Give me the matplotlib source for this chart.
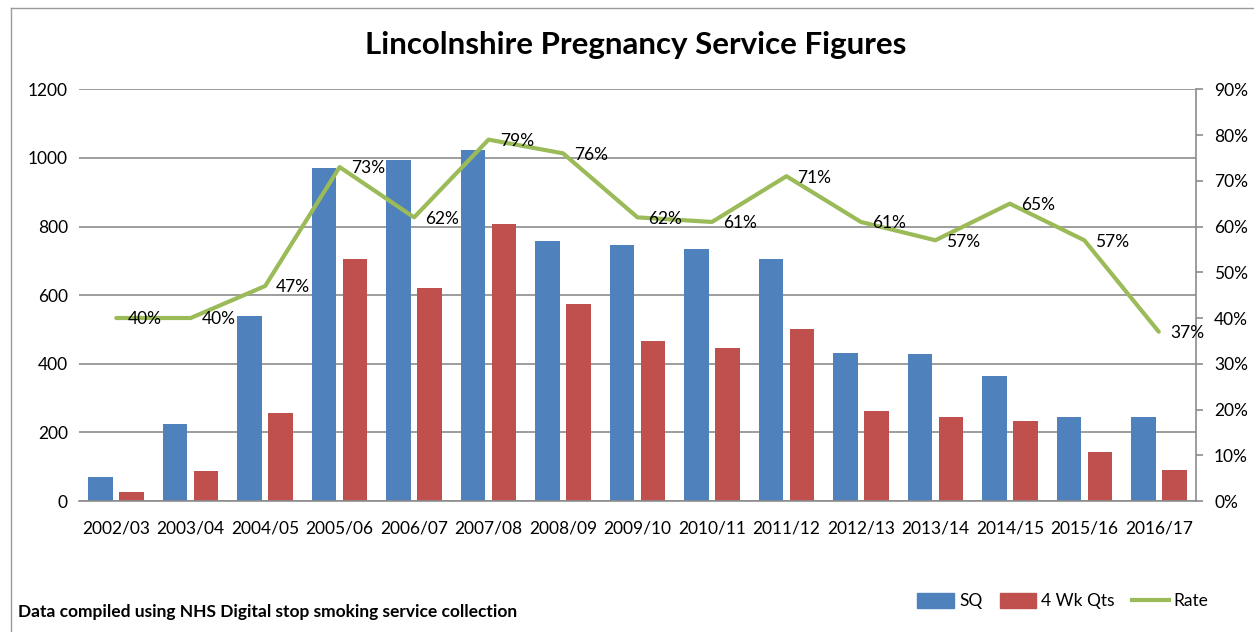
import matplotlib
matplotlib.use("Agg")
import matplotlib.pyplot as plt
from matplotlib.lines import Line2D
from matplotlib.patches import Patch
import numpy as np

years = ["2002/03", "2003/04", "2004/05", "2005/06", "2006/07", "2007/08",
         "2008/09", "2009/10", "2010/11", "2011/12", "2012/13", "2013/14",
         "2014/15", "2015/16", "2016/17"]
sq = [71, 223, 539, 970, 994, 1023, 758, 746, 735, 705, 430, 428, 364, 246, 244]
qts = [27, 88, 256, 704, 620, 807, 575, 465, 446, 500, 262, 244, 234, 142, 90]
rate = [0.40, 0.40, 0.47, 0.73, 0.62, 0.79, 0.76, 0.62, 0.61, 0.71,
        0.61, 0.57, 0.65, 0.57, 0.37]

BLUE = "#4F81BD"
RED = "#C0504D"
GREEN = "#9BBB59"
GRID = "#8C8C8C"

plt.rcParams["font.family"] = ["Lato", "DejaVu Sans"]

fig = plt.figure(figsize=(12.54, 6.32), dpi=100)
ax = fig.add_axes([79 / 1254, 131 / 632, (1196 - 79) / 1254, (501 - 89.3) / 632])

x = np.arange(len(years))
w = 0.33
ax.bar(x - 0.208, sq, w, color=BLUE, zorder=2)
ax.bar(x + 0.208, qts, w, color=RED, zorder=2)

ax.set_xlim(-0.5, len(years) - 0.5)
ax.set_ylim(0, 1200)
ax.set_yticks(range(0, 1201, 200))
ax.set_xticks(x)
ax.set_xticklabels(years)
ax.yaxis.grid(True, color=GRID, linewidth=1.2, zorder=0)
ax.set_axisbelow(True)
ax.tick_params(axis="both", length=0, labelsize=12.5, pad=8)
ax.tick_params(axis="x", pad=14)
for s in ["top", "left", "right"]:
    ax.spines[s].set_visible(False)
ax.spines["bottom"].set_color(GRID)
ax.spines["bottom"].set_linewidth(1.2)

ax2 = ax.twinx()
ax2.plot(x, rate, color=GREEN, linewidth=3, solid_capstyle="round", zorder=3)
ax2.set_ylim(0, 0.9)
ax2.set_yticks(np.arange(0, 0.91, 0.1))
ax2.set_yticklabels([f"{int(round(v * 100))}%" for v in np.arange(0, 0.91, 0.1)])
ax2.tick_params(axis="y", length=5, color=GRID, labelsize=12.5, pad=8, width=1.2)
for s in ["top", "left", "bottom"]:
    ax2.spines[s].set_visible(False)
ax2.spines["right"].set_color(GRID)
ax2.spines["right"].set_linewidth(1.2)

for xi, r in zip(x, rate):
    ax2.annotate(f"{int(round(r * 100))}%", xy=(xi, r), xytext=(8, -1),
                 textcoords="offset points", ha="left", va="center",
                 fontsize=12.5, zorder=4)

fig.text(0.507, 1 - 45 / 632, "Lincolnshire Pregnancy Service Figures",
         ha="center", va="center", fontsize=22.5, fontweight="bold")
fig.text(18 / 1254, 1 - 612 / 632,
         "Data compiled using NHS Digital stop smoking service collection",
         ha="left", va="center", fontsize=12.5, fontweight="bold")

handles = [Patch(color=BLUE), Patch(color=RED),
           Line2D([0], [0], color=GREEN, linewidth=3)]
fig.legend(handles, ["SQ", "4 Wk Qts", "Rate"], ncol=3, frameon=False,
           loc="center", bbox_to_anchor=(1063 / 1254, 1 - 601 / 632),
           fontsize=12.5, handlelength=2.1, handleheight=1.0,
           columnspacing=1.0, handletextpad=0.3)

fig.add_artist(Line2D([11 / 1254, 11 / 1254], [0, 1 - 8 / 632],
                      transform=fig.transFigure, color="#9A9A9A", linewidth=1))
fig.add_artist(Line2D([11 / 1254, 1], [1 - 8 / 632, 1 - 8 / 632],
                      transform=fig.transFigure, color="#9A9A9A", linewidth=1))

fig.savefig("out.png", dpi=100)
